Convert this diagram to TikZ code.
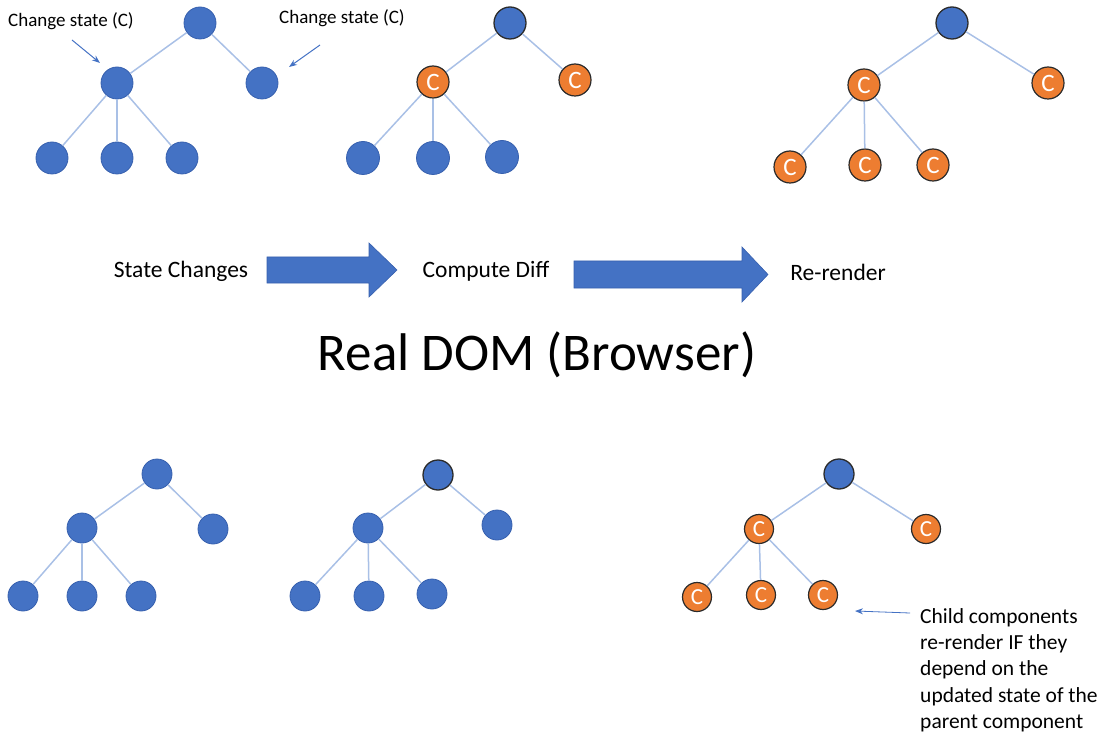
\documentclass[tikz,border=0pt]{standalone}
\usepackage{fontspec}
\setmainfont{Carlito}
\usetikzlibrary{arrows.meta}
\definecolor{nodeblue}{HTML}{4472C4}
\definecolor{nodeblueline}{HTML}{3760AE}
\definecolor{nodeorange}{HTML}{ED7D31}
\definecolor{edgeblue}{HTML}{A9C0E6}
\definecolor{ringdark}{HTML}{2B2B2B}
\tikzset{
  bnode/.style={circle, fill=nodeblue, draw=nodeblueline, line width=0.8pt, minimum size=32pt, inner sep=0pt},
  bnodes/.style={bnode, minimum size=30pt},
  rootdark/.style={circle, fill=nodeblue, draw=ringdark, line width=1.3pt, minimum size=32pt, inner sep=0pt},
  rootdarks/.style={rootdark, minimum size=30pt},
  cnode/.style={circle, fill=nodeorange, draw=ringdark, line width=1.2pt, minimum size=32pt, inner sep=0pt,
    text=white, font=\fontsize{25}{25}\selectfont},
  cnodes/.style={cnode, minimum size=29pt, font=\fontsize{23}{23}\selectfont},
  edge/.style={draw=edgeblue, line width=1.5pt},
  note/.style={font=\fontsize{19}{22}\selectfont, text=black, inner sep=0pt},
  stage/.style={font=\fontsize{23.5}{28}\selectfont, text=black, inner sep=0pt},
  blockarrow/.style={fill=nodeblue, draw=nodeblueline, line width=0.6pt, line join=miter},
  pointer/.style={draw=nodeblue, line width=1pt, -{Stealth[length=8pt,width=6pt]}}
}
\begin{document}
\begin{tikzpicture}[x=1pt, y=-1pt]
\useasboundingbox (0,0) rectangle (1113,735);

% ---------- top row: state change ----------
\node[bnode] (a0) at (200,23) {};
\node[bnode] (a1) at (117,83) {};
\node[bnode] (a2) at (262,83) {};
\node[bnode] (a3) at (52,158) {};
\node[bnode] (a4) at (117,158) {};
\node[bnode] (a5) at (182,158) {};
\draw[edge] (a0) -- (a1); \draw[edge] (a0) -- (a2);
\draw[edge] (a1) -- (a3); \draw[edge] (a1) -- (a4); \draw[edge] (a1) -- (a5);

\node[note, anchor=west] (la) at (8,21) {Change state (C)};
\node[note, anchor=west] (lb) at (279,18) {Change state (C)};
\coordinate (pa) at (72,40);
\coordinate (pb) at (320,45);
\draw[pointer] (pa) -- (100,63);
\draw[pointer] (pb) -- (289,67);

% ---------- top row: diff ----------
\node[rootdark] (b0) at (510,23) {};
\node[cnode] (b1) at (433,82) {C};
\node[cnode] (b2) at (575,80) {C};
\node[bnode, minimum size=33pt] (b3) at (363,158) {};
\node[bnode, minimum size=33pt] (b4) at (433,158) {};
\node[bnode, minimum size=33pt] (b5) at (502,157) {};
\draw[edge] (b0) -- (b1); \draw[edge] (b0) -- (b2);
\draw[edge] (b1) -- (b3); \draw[edge] (b1) -- (b4); \draw[edge] (b1) -- (b5);

% ---------- top row: re-render ----------
\node[rootdark] (c0) at (952,23) {};
\node[cnode] (c1) at (864,85) {C};
\node[cnode] (c2) at (1048,83) {C};
\node[cnode] (c3) at (790,167) {C};
\node[cnode] (c4) at (865,165) {C};
\node[cnode] (c5) at (933,165) {C};
\draw[edge] (c0) -- (c1); \draw[edge] (c0) -- (c2);
\draw[edge] (c1) -- (c3); \draw[edge] (c1) -- (c4); \draw[edge] (c1) -- (c5);

% ---------- stages ----------
\node[stage] (s1) at (181,271) {State Changes};
\node[stage] (s2) at (486,271) {Compute Diff};
\node[stage] (s3) at (838,272) {Re-render};
\draw[blockarrow] (267,257) -- (369,257) -- (369,243) -- (397,270) -- (369,297) -- (369,283) -- (267,283) -- cycle;
\draw[blockarrow] (574,261) -- (742,261) -- (742,247) -- (768,274.5) -- (742,302) -- (742,288) -- (574,288) -- cycle;

\node[font=\fontsize{53}{60}\selectfont, inner sep=0pt] (title) at (537,355) {Real DOM (Browser)};

% ---------- bottom row: initial tree ----------
\node[bnodes] (d0) at (157,474) {};
\node[bnodes] (d1) at (82,528) {};
\node[bnodes] (d2) at (213,529) {};
\node[bnodes] (d3) at (23,596) {};
\node[bnodes] (d4) at (82,596) {};
\node[bnodes] (d5) at (141,596) {};
\draw[edge] (d0) -- (d1); \draw[edge] (d0) -- (d2);
\draw[edge] (d1) -- (d3); \draw[edge] (d1) -- (d4); \draw[edge] (d1) -- (d5);

% ---------- bottom row: parent updated ----------
\node[rootdarks] (e0) at (438,475) {};
\node[bnodes] (e1) at (368,528) {};
\node[bnodes] (e2) at (497,525) {};
\node[bnodes] (e3) at (305,596) {};
\node[bnodes] (e4) at (369,596) {};
\node[bnodes] (e5) at (432,594) {};
\draw[edge] (e0) -- (e1); \draw[edge] (e0) -- (e2);
\draw[edge] (e1) -- (e3); \draw[edge] (e1) -- (e4); \draw[edge] (e1) -- (e5);

% ---------- bottom row: children re-render ----------
\node[rootdarks] (f0) at (839,474) {};
\node[cnodes] (f1) at (759,529) {C};
\node[cnodes] (f2) at (926,529) {C};
\node[cnodes] (f3) at (697,597) {C};
\node[cnodes] (f4) at (761,595) {C};
\node[cnodes] (f5) at (823,595) {C};
\draw[edge] (f0) -- (f1); \draw[edge] (f0) -- (f2);
\draw[edge] (f1) -- (f3); \draw[edge] (f1) -- (f4); \draw[edge] (f1) -- (f5);

\node[font=\fontsize{21.5}{26.3}\selectfont, align=left, anchor=north west, inner sep=0pt] (child) at (920,608)
  {Child components\\re-render IF they\\depend on the\\updated state of the\\parent component};
\coordinate (pc) at (910,613);
\draw[pointer, line width=0.8pt] (pc) -- (855,611);
\end{tikzpicture}
\end{document}
